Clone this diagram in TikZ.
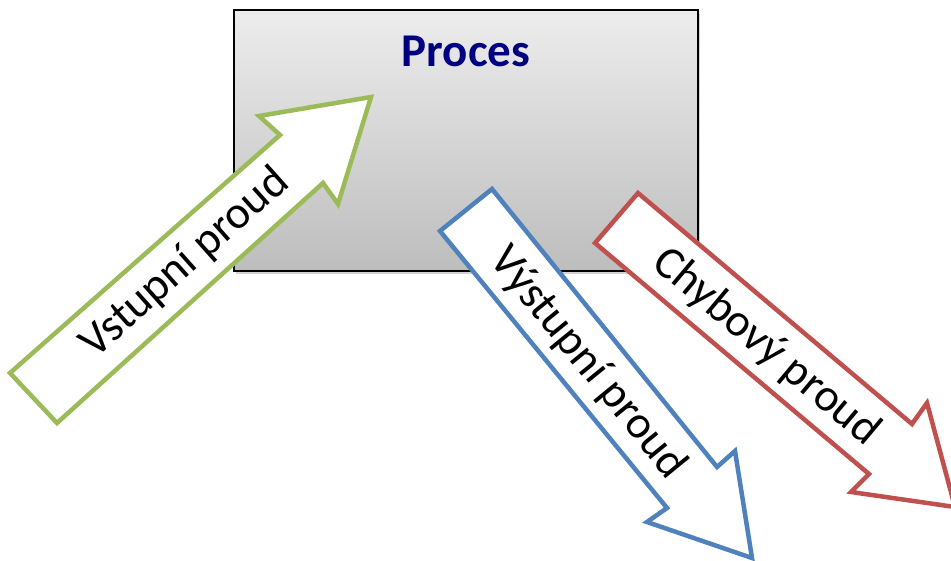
\documentclass[tikz,border=0pt]{standalone}
\usepackage{fontspec}
\setmainfont{Carlito}
\usepackage{xcolor}
\usetikzlibrary{positioning,shadows}
\definecolor{Olivine}{RGB}{155, 187, 89}
\definecolor{Steel Blue}{RGB}{79, 129, 189}
\definecolor{Fuzzy Wuzzy}{RGB}{192, 80, 77}
\definecolor{Navy Blue}{RGB}{0, 0, 128}
\definecolor{Platinum}{RGB}{237, 237, 237}
\definecolor{Silver}{RGB}{189, 189, 189}
\tikzset{
	sipka/.style={line width=4.5pt, fill=white, miter limit=20},
	popis/.style={font=\fontsize{46}{52}\selectfont, inner sep=0pt},
	procesbox/.style={draw=black, line width=1.5pt, top color=Platinum, bottom color=Silver,
		minimum width=464pt, minimum height=261pt, inner sep=0pt,
		drop shadow={opacity=0.35, shadow xshift=2pt, shadow yshift=-3pt}}
}

\begin{document}
\begin{tikzpicture}[x=1pt, y=-1pt]
	\useasboundingbox (0,0) rectangle (951,560);
	% Blok procesu
	\node[procesbox] (proces) at (466,140.5) {};
	\node[font=\fontsize{47}{52}\selectfont\bfseries, text=Navy Blue, below=23pt of proces.north] (procesPopis) {Proces};
	% Vstupni sipka
	\draw[sipka, draw=Olivine] (10,373) -- (280,135) -- (259,116) -- (371,97) -- (338,204) -- (323,183) -- (57,423) -- cycle;
	% Vystupni sipka
	\draw[sipka, draw=Steel Blue] (492,189) -- (717,467) -- (735,451) -- (752,558) -- (647,522) -- (667,508) -- (440,231) -- cycle;
	% Chybova sipka
	\draw[sipka, draw=Fuzzy Wuzzy] (638,193) -- (912,424) -- (927,403) -- (955,507) -- (851,492) -- (869,474) -- (595,243) -- cycle;
	% Popisky
	\node[popis, rotate=41.7] (vstup) at (185,263) {Vstupní proud};
	\node[popis, rotate=-50.8] (vystup) at (588,363) {Výstupní proud};
	\node[popis, rotate=-40] (chyba) at (766,347) {Chybový proud};
\end{tikzpicture}
\end{document}
